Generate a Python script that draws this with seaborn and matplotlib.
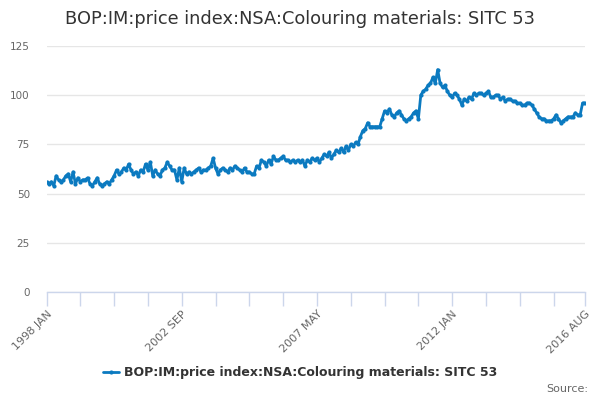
import matplotlib
matplotlib.use("Agg")
import matplotlib.pyplot as plt
import seaborn as sns
import pandas as pd
import numpy as np

months = pd.date_range("1998-01-01", "2016-08-01", freq="MS")
month_labels = [d.strftime("%Y %b").upper() for d in months]

v1998 = [56, 55, 56, 54, 59, 57, 56, 57, 59, 60, 56, 61]
v1999 = [55, 58, 56, 57, 57, 58, 55, 54, 56, 58, 55, 54]
v2000 = [55, 56, 55, 57, 59, 62, 60, 61, 63, 62, 65, 62]
v2001 = [60, 61, 59, 62, 61, 65, 62, 66, 59, 62, 60, 59]
v2002 = [62, 63, 66, 64, 62, 62, 57, 63, 56, 63, 60, 61]
v2003 = [60, 61, 62, 63, 61, 62, 62, 63, 64, 68, 63, 60]
v2004 = [62, 63, 62, 61, 63, 62, 64, 63, 62, 61, 63, 61]
v2005 = [61, 60, 60, 64, 63, 67, 66, 64, 67, 65, 69, 67]
v2006 = [67, 68, 69, 67, 67, 66, 67, 66, 67, 66, 67, 64]
v2007 = [67, 66, 68, 67, 68, 66, 68, 70, 69, 71, 68, 70]
v2008 = [72, 71, 73, 71, 74, 72, 75, 74, 76, 75, 79, 82]
v2009 = [83, 86, 84, 84, 84, 84, 84, 88, 92, 91, 93, 90]
v2010 = [89, 91, 92, 90, 88, 87, 88, 89, 91, 92, 88, 100]
v2011 = [102, 103, 105, 106, 109, 106, 113, 106, 104, 105, 102, 100]
v2012 = [99, 101, 100, 98, 95, 98, 97, 99, 98, 101, 100, 101]
v2013 = [101, 100, 101, 102, 99, 99, 100, 100, 98, 99, 97, 98]
v2014 = [98, 97, 97, 96, 96, 95, 95, 96, 96, 95, 93, 91]
v2015 = [89, 88, 88, 87, 87, 87, 88, 90, 88, 86, 87, 88]
v2016 = [89, 89, 89, 91, 90, 90, 96, 96]

values = (v1998 + v1999 + v2000 + v2001 + v2002 + v2003 + v2004 + v2005 +
          v2006 + v2007 + v2008 + v2009 + v2010 + v2011 + v2012 + v2013 +
          v2014 + v2015 + v2016)

series_name = "BOP:IM:price index:NSA:Colouring materials: SITC 53"
title = "BOP:IM:price index:NSA:Colouring materials: SITC 53"
y_ticks = [0, 25, 50, 75, 100, 125]
labelled_months = ["1998 JAN", "2002 SEP", "2007 MAY", "2012 JAN", "2016 AUG"]

df = pd.DataFrame({"idx": np.arange(len(values)), "value": values,
                   "month": month_labels[:len(values)], "series": series_name})

sns.set_theme(style="white")
plt.rcParams["font.family"] = ["DejaVu Sans"]

fig = plt.figure(figsize=(6, 4), dpi=100)
ax = fig.add_axes([0.0775, 0.27, 0.8975, 0.615])

color = "#0b7ac0"
sns.lineplot(data=df, x="idx", y="value", hue="series", palette=[color],
             marker="o", markersize=3, markeredgewidth=0, linewidth=2,
             ax=ax, legend=False)

n = len(values)
ax.set_xlim(0, n - 1)
ax.set_ylim(0, 125)
ax.set_yticks(y_ticks)
ax.set_yticklabels([str(t) for t in y_ticks], color="#666666", fontsize=7.5)
ax.grid(axis="y", color="#e6e6e6", linewidth=1)
ax.set_axisbelow(True)

tick_pos = list(range(0, n - 1, 14))
if tick_pos[-1] != n - 1:
    tick_pos.append(n - 1)
ax.set_xticks(tick_pos)
lbls = [df["month"][p] if df["month"][p] in labelled_months else "" for p in tick_pos]
ax.set_xticklabels(lbls, rotation=45, ha="right", rotation_mode="anchor",
                   color="#666666", fontsize=8)
ax.tick_params(axis="x", bottom=True, direction="out", length=10, width=1,
               color="#ccd6eb", pad=2)
ax.tick_params(axis="y", left=False, length=0, pad=12)
for s in ["top", "right", "left"]:
    ax.spines[s].set_visible(False)
ax.spines["bottom"].set_color("#ccd6eb")
ax.spines["bottom"].set_linewidth(1)
ax.set_xlabel("")
ax.set_ylabel("")

fig.text(0.5, 0.953, title, ha="center", va="center", fontsize=12.8, color="#333333")

from matplotlib.lines import Line2D
handle = Line2D([], [], color=color, marker="o", markersize=3, linewidth=2,
                markeredgewidth=0)
leg = fig.legend([handle], [series_name], loc="center", bbox_to_anchor=(0.5, 0.068),
                 frameon=False, handlelength=1.3, handletextpad=0.4,
                 prop={"weight": "bold", "size": 9})
for t in leg.get_texts():
    t.set_color("#333333")

fig.text(0.98, 0.027, "Source:", ha="right", va="center", fontsize=8, color="#666666")

fig.savefig("out.png", dpi=100)
